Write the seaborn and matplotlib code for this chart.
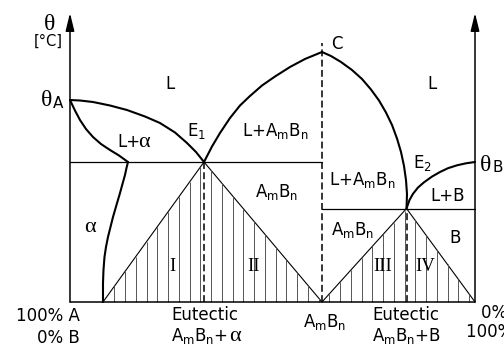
import numpy as np
import matplotlib
matplotlib.use("Agg")
import matplotlib.pyplot as plt
import seaborn as sns

# Binary system A-B with an intermediate compound AmBn.
# x: composition in % B, t: temperature (arbitrary degree units)
theta_A = 101.0
theta_B = 70.0
x_E1, t_E1 = 33.09, 70.0
x_C, t_C = 62.22, 125.0
x_E2, t_E2 = 83.09, 46.75

# liquidus from the melting point of A down to E1
liq_A_x = [0.0, 2.47, 5.68, 9.88, 14.07, 18.52, 22.22, 25.93, 28.89, 31.11, 33.09]
liq_A_t = [101.0, 100.75, 100.0, 98.25, 96.0, 92.75, 89.5, 84.75, 79.5, 75.0, 70.0]
# solidus of the alpha solid solution
sol_A_x = [0.0, 1.23, 2.47, 3.95, 5.68, 7.65, 9.88, 12.1, 14.32]
sol_A_t = [101.0, 95.75, 91.0, 86.5, 82.5, 79.0, 76.0, 73.25, 70.0]
# solvus of alpha
solvus_x = [14.32, 13.95, 13.58, 12.96, 12.35, 11.48, 10.62, 10.0, 9.38, 8.89,
            8.52, 8.27, 8.15, 8.15]
solvus_t = [70.0, 67.0, 63.5, 59.0, 54.5, 48.5, 42.5, 37.5, 32.5, 27.5,
            22.5, 16.0, 9.5, 0.0]
# liquidus of AmBn, A-rich side (E1 -> C)
liq_C1_x = [33.09, 35.06, 37.04, 39.51, 41.98, 44.44, 47.41, 50.62, 54.32, 58.02, 62.22]
liq_C1_t = [70.0, 77.75, 84.5, 92.0, 98.25, 103.0, 108.25, 112.75, 117.5, 121.5, 125.0]
# liquidus of AmBn, B-rich side (C -> E2)
liq_C2_x = [62.22, 64.44, 66.91, 69.63, 72.10, 74.32, 76.30, 78.02, 79.51, 80.74,
            81.73, 82.47, 82.96, 83.21, 83.09]
liq_C2_t = [125.0, 123.0, 120.0, 116.0, 111.5, 106.25, 100.75, 94.75, 88.5, 81.75,
            75.0, 68.0, 61.0, 54.0, 46.75]
# liquidus from the melting point of B down to E2
liq_B_x = [100.0, 97.78, 95.56, 93.33, 91.36, 89.38, 87.41, 85.93, 84.69, 83.83, 83.09]
liq_B_t = [70.0, 69.35, 68.35, 66.9, 65.0, 62.7, 59.85, 57.25, 54.1, 51.0, 46.75]

# structure triangles (I, II, III, IV) below the eutectic lines
tri_x = [8.15, 33.09, 62.22, 83.09, 100.0]
tri_t = [0.0, 70.0, 0.0, 46.75, 0.0]

sns.set_theme(style="white")
plt.rcParams["font.family"] = ["DejaVu Sans"]
plt.rcParams["mathtext.fontset"] = "dejavusans"

fig = plt.figure(figsize=(5.04, 3.47), dpi=100)
ax = fig.add_axes([0, 0, 1, 1])
ax.set_xlim(-17.28, 107.16)
ax.set_ylim(-22.5, 151.0)
ax.axis("off")

K = "black"
thick = 1.5

def curve(xs, ts, lw=thick, **kw):
    sns.lineplot(x=xs, y=ts, sort=False, estimator=None, color=K, lw=lw, ax=ax,
                 legend=False, **kw)

# phase boundaries
curve(liq_A_x, liq_A_t)
curve(sol_A_x, sol_A_t)
curve(solvus_x, solvus_t)
curve(liq_C1_x, liq_C1_t)
curve(liq_C2_x, liq_C2_t)
curve(liq_B_x, liq_B_t)

# eutectic horizontals
curve([0.0, x_C], [t_E1, t_E1], lw=0.9)
curve([x_C, 100.0], [t_E2, t_E2], lw=0.9)

# triangle outlines
curve(tri_x, tri_t, lw=0.8)

# vertical hatching inside triangles
hatch_x = np.arange(10.94, 100.0, 2.654)
hatch_top = np.interp(hatch_x, tri_x, tri_t)
ax.vlines(hatch_x, 0, hatch_top, color="#555555", lw=0.7)

# dashed composition lines
for xv, top in [(x_E1, t_E1), (x_C, t_C + 4.5), (x_E2, t_E2)]:
    ax.plot([xv, xv], [0, top], color=K, lw=1.1, dashes=(4.5, 2.2))

# axes: bottom line + two temperature arrows
ax.plot([0, 100], [0, 0], color=K, lw=1.1)
for xa in (0.0, 100.0):
    ax.annotate("", xy=(xa, 144.5), xytext=(xa, 0),
                arrowprops=dict(arrowstyle="-|>,head_length=0.9,head_width=0.22",
                                lw=1.1, color=K, shrinkA=0, shrinkB=0))

SANS = 12
SERIF = "Liberation Serif"

def txt(x, y, s, ha="left", size=SANS, family=None, va="baseline"):
    kw = {}
    if family:
        kw["family"] = family
    ax.text(x, y, s, ha=ha, va=va, fontsize=size, color=K, **kw)

AB = r"$\mathregular{A_mB_n}$"

# axis annotations
txt(-4.94, 136.0, "θ", ha="center", size=17, family=SERIF)
txt(-5.43, 128.0, "[°C]", ha="center", size=10.5)
txt(-4.3, 98.0, "θ", ha="right", size=17, family=SERIF)
txt(-4.2, 97.0, "A", ha="left", size=11)
txt(101.2, 65.5, "θ", ha="left", size=17, family=SERIF)
txt(104.3, 65.0, "B", ha="left", size=11)

# region labels
txt(24.7, 106.5, "L", ha="center")
txt(89.4, 106.5, "L", ha="center")
txt(17.3, 77.5, "L+", ha="right")
txt(18.3, 77.5, "α", ha="center", size=16, family=SERIF)
txt(28.9, 83.0, r"$\mathregular{E_1}$")
txt(42.5, 83.0, r"$\mathregular{L{+}A_mB_n}$")
txt(64.4, 126.5, "C")
txt(84.7, 67.0, r"$\mathregular{E_2}$")
txt(64.0, 58.5, r"$\mathregular{L{+}A_mB_n}$")
txt(88.9, 50.5, "L+B")
txt(45.7, 52.5, AB)
txt(64.4, 33.5, AB)
txt(95.1, 29.5, "B", ha="center")
txt(4.94, 35.0, "α", ha="center", size=16, family=SERIF)

# structure numerals
for xr, s in [(25.4, "I"), (45.4, "II"), (77.3, "III"), (87.7, "IV")]:
    txt(xr, 15.3, s, ha="center", size=13.5, family=SERIF)

# composition labels along the base
txt(2.47, -9.5, "100% A", ha="right")
txt(2.47, -20.3, "0% B", ha="right")
txt(33.3, -9.0, "Eutectic", ha="center")
txt(24.9, -19.5, r"$\mathregular{A_mB_n{+}}$")
txt(40.7, -19.5, "α", ha="center", size=16, family=SERIF)
txt(63.0, -12.5, AB, ha="center")
txt(83.0, -9.0, "Eutectic", ha="center")
txt(83.2, -19.5, r"$\mathregular{A_mB_n{+}B}$", ha="center")
txt(101.5, -8.0, "0% A")
txt(97.8, -17.5, "100% B")

fig.savefig("out.png", dpi=100)
